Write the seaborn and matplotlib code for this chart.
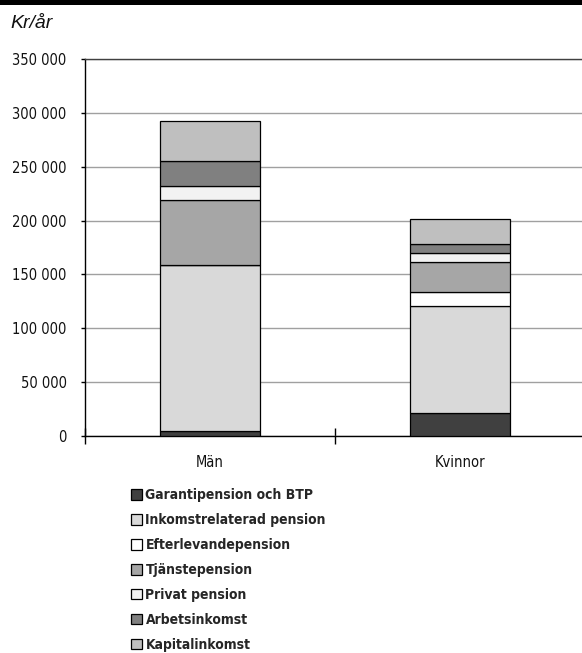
import matplotlib
matplotlib.use("Agg")
import matplotlib.pyplot as plt
from matplotlib.patches import Patch, Rectangle
from matplotlib.ticker import FuncFormatter, MultipleLocator, FixedLocator
import numpy as np
import pandas as pd
import seaborn as sns

# Pension income composition, kr per year
groups = ["Män", "Kvinnor"]
components = [
    "Garantipension och BTP",
    "Inkomstrelaterad pension",
    "Efterlevandepension",
    "Tjänstepension",
    "Privat pension",
    "Arbetsinkomst",
    "Kapitalinkomst",
]
garantipension = [5000, 21000]
inkomstrelaterad = [154000, 100000]
efterlevande = [0, 12500]
tjanstepension = [60000, 28000]
privat = [13000, 8000]
arbetsinkomst = [23000, 9000]
kapitalinkomst = [37000, 23000]
colors = ["#404040", "#d9d9d9", "#ffffff", "#a6a6a6", "#f2f2f2", "#808080", "#bfbfbf"]

series = [garantipension, inkomstrelaterad, efterlevande, tjanstepension,
          privat, arbetsinkomst, kapitalinkomst]

sns.set_theme(style="white")
narrow = ["DejaVu Sans"]
plt.rcParams["font.family"] = narrow
plt.rcParams["font.stretch"] = "condensed"

fig = plt.figure(figsize=(5.82, 6.53), dpi=100)
ax = fig.add_axes([85 / 582, 1 - 436 / 653, 500 / 582, 377 / 653])

bottom = np.zeros(len(groups))
for name, vals, col in zip(components, series, colors):
    df = pd.DataFrame({"grupp": groups, "kr": vals})
    sns.barplot(data=df, x="grupp", y="kr", order=groups, color=col,
                saturation=1, width=0.4, errorbar=None, bottom=bottom,
                edgecolor="black", linewidth=0.9, ax=ax, zorder=3)
    bottom = bottom + np.array(vals, dtype=float)

ax.set_xlim(-0.5, 1.5)
ax.set_ylim(0, 350000)
ax.yaxis.set_major_locator(MultipleLocator(50000))
ax.yaxis.set_major_formatter(FuncFormatter(lambda v, p: f"{int(v):,}".replace(",", " ")))
ax.grid(axis="y", color="#a0a0a0", linewidth=1.0, zorder=0)
ax.set_axisbelow(True)
ax.set_xlabel("")
ax.set_ylabel("")

for s in ["left", "bottom"]:
    ax.spines[s].set_visible(True)
    ax.spines[s].set_color("black")
    ax.spines[s].set_linewidth(1.0)
ax.spines["top"].set_visible(True)
ax.spines["top"].set_color("#404040")
ax.spines["top"].set_linewidth(1.0)
ax.spines["right"].set_visible(False)

ax.tick_params(axis="y", which="major", left=True, length=3, width=1,
               color="black", pad=10.3, labelsize=10.5, labelcolor="#111111")
ax.tick_params(axis="x", which="major", length=0, pad=14, labelsize=10.5,
               labelcolor="#111111")
ax.xaxis.set_minor_locator(FixedLocator([-0.5, 0.5]))
ax.tick_params(axis="x", which="minor", bottom=True, direction="inout",
               length=11, width=1, color="black")

fig.text(10 / 582, 1 - 24 / 653, "Kr/år", fontsize=14, style="italic",
         family=["Liberation Sans", "DejaVu Sans"], stretch="normal",
         va="center", ha="left", color="#111111")

# dark band across the top edge
fig.patches.append(Rectangle((0, 1 - 5 / 653), 1, 5 / 653, transform=fig.transFigure,
                             facecolor="black", edgecolor="none", zorder=10))

handles = [Patch(facecolor=c, edgecolor="black", linewidth=0.9) for c in colors]
fig.legend(handles, components, loc="upper left",
           bbox_to_anchor=(131 / 582, 1 - 488 / 653), frameon=False,
           borderpad=0, borderaxespad=0, handlelength=0.82, handleheight=0.82,
           handletextpad=0.22, labelspacing=0.79,
           prop={"family": narrow, "weight": "bold", "size": 10,
                 "stretch": "condensed"})

fig.savefig("out.png", dpi=100)
